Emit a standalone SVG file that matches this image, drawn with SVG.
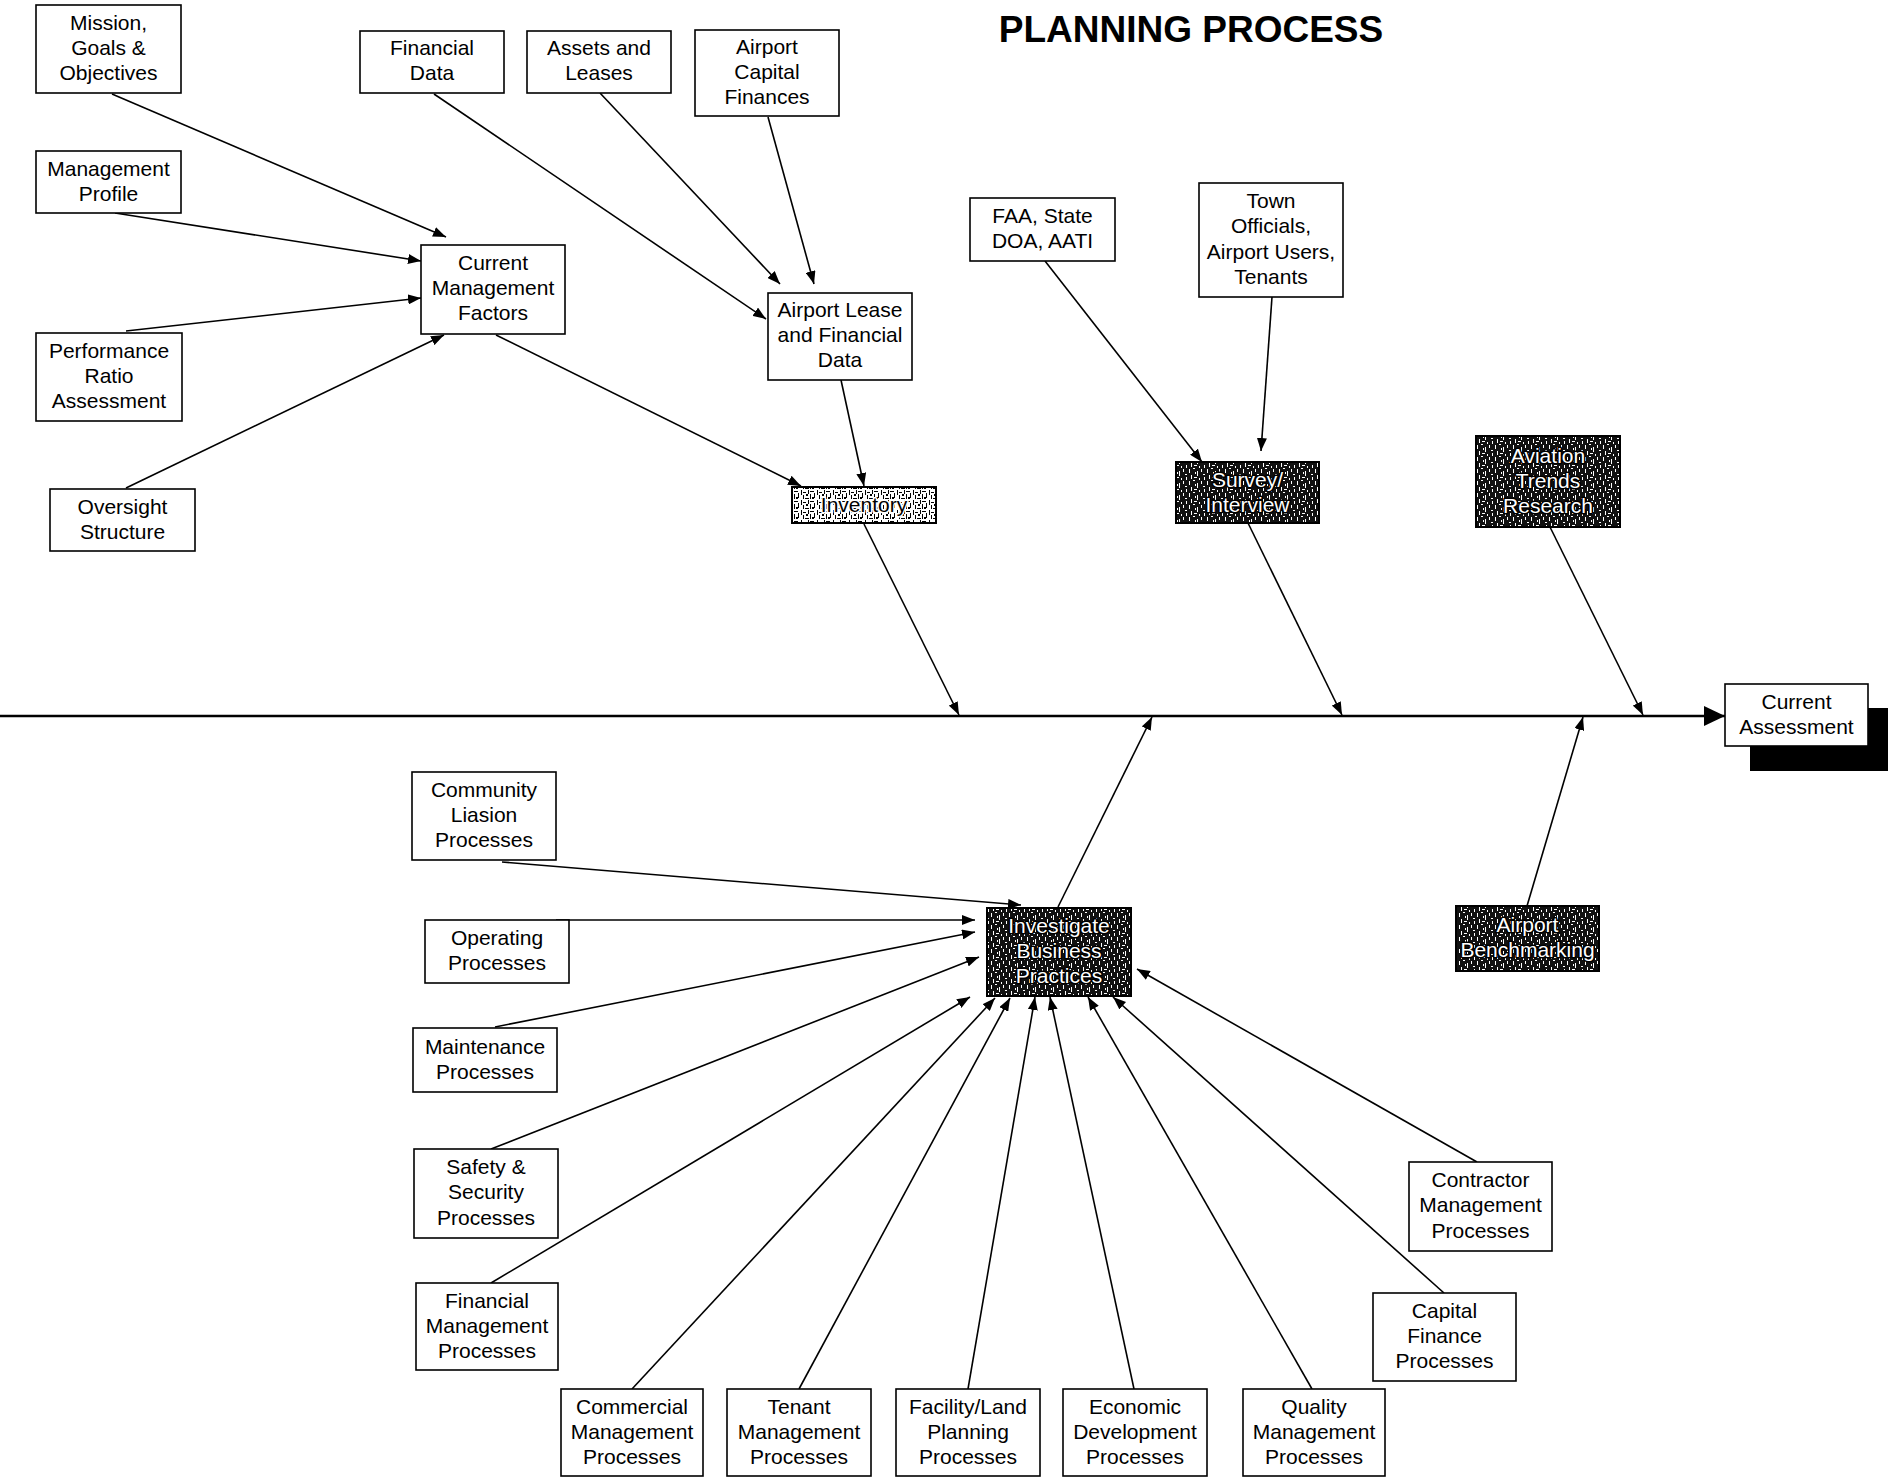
<svg xmlns="http://www.w3.org/2000/svg" width="1888" height="1480" viewBox="0 0 1888 1480">
<style>
.b{fill:#fff;stroke:#000;stroke-width:1.6}
.d{fill:url(#pd);stroke:#000;stroke-width:2}
.l{fill:url(#pl);stroke:#000;stroke-width:2}
.t{font-family:"Liberation Sans",Arial,sans-serif;font-size:21px;text-anchor:middle;fill:#000}
.dt{fill:#fff;stroke:#000;stroke-width:3;paint-order:stroke;stroke-linejoin:round}
.lt{fill:#000;stroke:#fff;stroke-width:3;paint-order:stroke;stroke-linejoin:round}
.c{stroke:#000;stroke-width:1.6;fill:none;marker-end:url(#ah)}
.title{font-family:"Liberation Sans",Arial,sans-serif;font-size:37px;font-weight:bold;text-anchor:middle;fill:#000}
</style>
<defs>
<marker id="ah" markerUnits="userSpaceOnUse" markerWidth="14" markerHeight="10" refX="13" refY="5" orient="auto">
<path d="M0,0 L13,5 L0,10 z" fill="#000"/>
</marker>
<marker id="big" markerUnits="userSpaceOnUse" markerWidth="22" markerHeight="20" refX="21" refY="10" orient="auto">
<path d="M0,0 L21,10 L0,20 z" fill="#000"/>
</marker>
<pattern id="pd" width="18" height="12" patternUnits="userSpaceOnUse">
<rect width="18" height="12" fill="#111"/>
<rect x="1" y="1" width="1" height="4" fill="#fff"/>
<rect x="5" y="0" width="2" height="1" fill="#fff"/>
<rect x="9" y="3" width="1" height="5" fill="#fff"/>
<rect x="13" y="1" width="1" height="3" fill="#fff"/>
<rect x="15" y="6" width="2" height="1" fill="#fff"/>
<rect x="3" y="7" width="1" height="4" fill="#fff"/>
<rect x="6" y="9" width="3" height="1" fill="#fff"/>
<rect x="11" y="10" width="1" height="2" fill="#fff"/>
<rect x="16" y="9" width="1" height="3" fill="#fff"/>
<rect x="7" y="4" width="1" height="2" fill="#fff"/>
</pattern>
<pattern id="pl" width="16" height="10" patternUnits="userSpaceOnUse">
<rect width="16" height="10" fill="#fff"/>
<rect x="1" y="0" width="1" height="5" fill="#000"/>
<rect x="3" y="2" width="3" height="1" fill="#000"/>
<rect x="8" y="0" width="1" height="4" fill="#000"/>
<rect x="10" y="1" width="4" height="1" fill="#000"/>
<rect x="14" y="3" width="1" height="5" fill="#000"/>
<rect x="3" y="5" width="1" height="4" fill="#000"/>
<rect x="5" y="8" width="4" height="1" fill="#000"/>
<rect x="10" y="4" width="1" height="5" fill="#000"/>
<rect x="12" y="7" width="2" height="2" fill="#000"/>
<rect x="6" y="4" width="2" height="2" fill="#000"/>
</pattern>
</defs>
<rect width="1888" height="1480" fill="#fff"/>
<text class="title" x="1191" y="42">PLANNING PROCESS</text>

<g id="connectors">
<line x1="0" y1="716" x2="1725" y2="716" stroke="#000" stroke-width="2.6" marker-end="url(#big)"/>
<line class="c" x1="112" y1="94" x2="446" y2="237"/>
<line class="c" x1="115" y1="213" x2="421" y2="261"/>
<line class="c" x1="126" y1="331" x2="421" y2="298"/>
<line class="c" x1="126" y1="488" x2="444" y2="335"/>
<line class="c" x1="496" y1="335" x2="801" y2="486"/>
<line class="c" x1="434" y1="94" x2="766" y2="319"/>
<line class="c" x1="600" y1="93" x2="780" y2="284"/>
<line class="c" x1="768" y1="117" x2="814" y2="284"/>
<line class="c" x1="841" y1="380" x2="864" y2="486"/>
<line class="c" x1="864" y1="524" x2="959" y2="715"/>
<line class="c" x1="1045" y1="261" x2="1202" y2="462"/>
<line class="c" x1="1272" y1="297" x2="1261" y2="451"/>
<line class="c" x1="1248" y1="523" x2="1342" y2="715"/>
<line class="c" x1="1550" y1="527" x2="1643" y2="715"/>
<line class="c" x1="1058" y1="907" x2="1152" y2="717"/>
<line class="c" x1="1527" y1="906" x2="1583" y2="717"/>
<line class="c" x1="502" y1="862" x2="1021" y2="905"/>
<line class="c" x1="556" y1="920" x2="975" y2="920"/>
<line class="c" x1="495" y1="1027" x2="975" y2="932"/>
<line class="c" x1="491" y1="1149" x2="979" y2="957"/>
<line class="c" x1="491" y1="1283" x2="970" y2="997"/>
<line class="c" x1="632" y1="1389" x2="995" y2="998"/>
<line class="c" x1="799" y1="1389" x2="1010" y2="998"/>
<line class="c" x1="968" y1="1389" x2="1035" y2="997"/>
<line class="c" x1="1134" y1="1389" x2="1050" y2="997"/>
<line class="c" x1="1312" y1="1389" x2="1088" y2="997"/>
<line class="c" x1="1444" y1="1293" x2="1113" y2="997"/>
<line class="c" x1="1477" y1="1162" x2="1137" y2="969"/>
</g>

<g id="mission"><rect class="b" x="36" y="5" width="145" height="88"/><text class="t"><tspan x="108.5" y="30">Mission,</tspan><tspan x="108.5" y="55">Goals &amp;</tspan><tspan x="108.5" y="80">Objectives</tspan></text></g>
<g id="mgmtProfile"><rect class="b" x="36" y="151" width="145" height="62"/><text class="t"><tspan x="108.5" y="176">Management</tspan><tspan x="108.5" y="201">Profile</tspan></text></g>
<g id="perfRatio"><rect class="b" x="36" y="333" width="146" height="88"/><text class="t"><tspan x="109" y="358">Performance</tspan><tspan x="109" y="383">Ratio</tspan><tspan x="109" y="408">Assessment</tspan></text></g>
<g id="oversight"><rect class="b" x="50" y="489" width="145" height="62"/><text class="t"><tspan x="122.5" y="514">Oversight</tspan><tspan x="122.5" y="539">Structure</tspan></text></g>
<g id="cmf"><rect class="b" x="421" y="245" width="144" height="89"/><text class="t"><tspan x="493" y="270">Current</tspan><tspan x="493" y="295">Management</tspan><tspan x="493" y="320">Factors</tspan></text></g>
<g id="finData"><rect class="b" x="360" y="31" width="144" height="62"/><text class="t"><tspan x="432" y="55">Financial</tspan><tspan x="432" y="80">Data</tspan></text></g>
<g id="assets"><rect class="b" x="527" y="31" width="144" height="62"/><text class="t"><tspan x="599" y="55">Assets and</tspan><tspan x="599" y="80">Leases</tspan></text></g>
<g id="capFinances"><rect class="b" x="695" y="30" width="144" height="86"/><text class="t"><tspan x="767" y="54">Airport</tspan><tspan x="767" y="79">Capital</tspan><tspan x="767" y="104">Finances</tspan></text></g>
<g id="lease"><rect class="b" x="768" y="293" width="144" height="87"/><text class="t"><tspan x="840" y="317">Airport Lease</tspan><tspan x="840" y="342">and Financial</tspan><tspan x="840" y="367">Data</tspan></text></g>
<g id="inventory"><rect class="l" x="792" y="487" width="144" height="36"/><text class="t lt"><tspan x="864" y="512">Inventory</tspan></text></g>
<g id="faa"><rect class="b" x="970" y="198" width="145" height="63"/><text class="t"><tspan x="1042.5" y="223">FAA, State</tspan><tspan x="1042.5" y="248">DOA, AATI</tspan></text></g>
<g id="town"><rect class="b" x="1199" y="183" width="144" height="114"/><text class="t"><tspan x="1271" y="208">Town</tspan><tspan x="1271" y="233">Officials,</tspan><tspan x="1271" y="259">Airport Users,</tspan><tspan x="1271" y="284">Tenants</tspan></text></g>
<g id="survey"><rect class="d" x="1176" y="462" width="143" height="61"/><text class="t dt"><tspan x="1247.5" y="487">Survey/</tspan><tspan x="1247.5" y="512">Interview</tspan></text></g>
<g id="aviation"><rect class="d" x="1476" y="436" width="144" height="91"/><text class="t dt"><tspan x="1548" y="463">Aviation</tspan><tspan x="1548" y="488">Trends</tspan><tspan x="1548" y="513">Research</tspan></text></g>
<g id="currentAssessment"><rect x="1750" y="708" width="140" height="63" fill="#000"/><rect class="b" x="1725" y="684" width="143" height="62"/><text class="t"><tspan x="1796.5" y="709">Current</tspan><tspan x="1796.5" y="734">Assessment</tspan></text></g>
<g id="investigate"><rect class="d" x="987" y="908" width="144" height="88"/><text class="t dt"><tspan x="1059" y="933">Investigate</tspan><tspan x="1059" y="958">Business</tspan><tspan x="1059" y="983">Practices</tspan></text></g>
<g id="benchmarking"><rect class="d" x="1456" y="906" width="143" height="65"/><text class="t dt"><tspan x="1527.5" y="932">Airport</tspan><tspan x="1527.5" y="957">Benchmarking</tspan></text></g>
<g id="community"><rect class="b" x="412" y="772" width="144" height="88"/><text class="t"><tspan x="484" y="797">Community</tspan><tspan x="484" y="822">Liasion</tspan><tspan x="484" y="847">Processes</tspan></text></g>
<g id="operating"><rect class="b" x="425" y="920" width="144" height="63"/><text class="t"><tspan x="497" y="945">Operating</tspan><tspan x="497" y="970">Processes</tspan></text></g>
<g id="maintenance"><rect class="b" x="413" y="1028" width="144" height="64"/><text class="t"><tspan x="485" y="1054">Maintenance</tspan><tspan x="485" y="1079">Processes</tspan></text></g>
<g id="safety"><rect class="b" x="414" y="1149" width="144" height="89"/><text class="t"><tspan x="486" y="1174">Safety &amp;</tspan><tspan x="486" y="1199">Security</tspan><tspan x="486" y="1225">Processes</tspan></text></g>
<g id="finMgmt"><rect class="b" x="416" y="1283" width="142" height="87"/><text class="t"><tspan x="487" y="1308">Financial</tspan><tspan x="487" y="1333">Management</tspan><tspan x="487" y="1358">Processes</tspan></text></g>
<g id="commercial"><rect class="b" x="561" y="1389" width="142" height="87"/><text class="t"><tspan x="632" y="1414">Commercial</tspan><tspan x="632" y="1439">Management</tspan><tspan x="632" y="1464">Processes</tspan></text></g>
<g id="tenant"><rect class="b" x="727" y="1389" width="144" height="87"/><text class="t"><tspan x="799" y="1414">Tenant</tspan><tspan x="799" y="1439">Management</tspan><tspan x="799" y="1464">Processes</tspan></text></g>
<g id="facility"><rect class="b" x="896" y="1389" width="144" height="87"/><text class="t"><tspan x="968" y="1414">Facility/Land</tspan><tspan x="968" y="1439">Planning</tspan><tspan x="968" y="1464">Processes</tspan></text></g>
<g id="economic"><rect class="b" x="1063" y="1389" width="144" height="87"/><text class="t"><tspan x="1135" y="1414">Economic</tspan><tspan x="1135" y="1439">Development</tspan><tspan x="1135" y="1464">Processes</tspan></text></g>
<g id="quality"><rect class="b" x="1243" y="1389" width="142" height="87"/><text class="t"><tspan x="1314" y="1414">Quality</tspan><tspan x="1314" y="1439">Management</tspan><tspan x="1314" y="1464">Processes</tspan></text></g>
<g id="capitalFinance"><rect class="b" x="1373" y="1293" width="143" height="88"/><text class="t"><tspan x="1444.5" y="1318">Capital</tspan><tspan x="1444.5" y="1343">Finance</tspan><tspan x="1444.5" y="1368">Processes</tspan></text></g>
<g id="contractor"><rect class="b" x="1409" y="1162" width="143" height="89"/><text class="t"><tspan x="1480.5" y="1187">Contractor</tspan><tspan x="1480.5" y="1212">Management</tspan><tspan x="1480.5" y="1238">Processes</tspan></text></g>
</svg>
